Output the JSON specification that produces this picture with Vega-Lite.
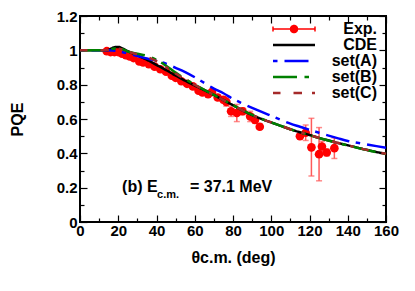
{
  "$schema": "https://vega.github.io/schema/vega-lite/v6.json",
  "width": 306,
  "height": 206,
  "autosize": {"type": "none"},
  "padding": {"left": 80, "top": 16, "right": 29, "bottom": 69},
  "background": "white",
  "config": {
    "view": {"stroke": "black", "strokeWidth": 2},
    "font": "Liberation Sans",
    "axis": {"grid": false, "domain": false, "tickColor": "black", "tickWidth": 1.2, "labelFlush": false, "labelOverlap": false, "labelFont": "Liberation Sans", "labelFontWeight": "bold", "labelFontSize": 15, "labelColor": "black", "titleFont": "Liberation Sans", "titleFontWeight": "bold", "titleFontSize": 16, "titleColor": "black"}
  },
  "datasets": {
    "exp": [
      {"theta": 14, "P": 0.995, "lo": 0.99, "hi": 1.0},
      {"theta": 16, "P": 0.99, "lo": 0.984, "hi": 0.996},
      {"theta": 18, "P": 0.99, "lo": 0.984, "hi": 0.996},
      {"theta": 20, "P": 0.99, "lo": 0.983, "hi": 0.997},
      {"theta": 22, "P": 0.98, "lo": 0.973, "hi": 0.987},
      {"theta": 24, "P": 0.972, "lo": 0.965, "hi": 0.979},
      {"theta": 26, "P": 0.965, "lo": 0.958, "hi": 0.972},
      {"theta": 28, "P": 0.955, "lo": 0.948, "hi": 0.962},
      {"theta": 31, "P": 0.935, "lo": 0.927, "hi": 0.943},
      {"theta": 33, "P": 0.93, "lo": 0.922, "hi": 0.938},
      {"theta": 36, "P": 0.92, "lo": 0.912, "hi": 0.928},
      {"theta": 39, "P": 0.905, "lo": 0.896, "hi": 0.914},
      {"theta": 42, "P": 0.89, "lo": 0.881, "hi": 0.899},
      {"theta": 45, "P": 0.875, "lo": 0.866, "hi": 0.884},
      {"theta": 48, "P": 0.852, "lo": 0.842, "hi": 0.862},
      {"theta": 50, "P": 0.84, "lo": 0.83, "hi": 0.85},
      {"theta": 53, "P": 0.82, "lo": 0.81, "hi": 0.83},
      {"theta": 56, "P": 0.805, "lo": 0.794, "hi": 0.816},
      {"theta": 59, "P": 0.79, "lo": 0.779, "hi": 0.801},
      {"theta": 62, "P": 0.765, "lo": 0.753, "hi": 0.777},
      {"theta": 64, "P": 0.755, "lo": 0.743, "hi": 0.767},
      {"theta": 67, "P": 0.745, "lo": 0.732, "hi": 0.758},
      {"theta": 69, "P": 0.757, "lo": 0.74, "hi": 0.774},
      {"theta": 72, "P": 0.725, "lo": 0.71, "hi": 0.74},
      {"theta": 75, "P": 0.712, "lo": 0.695, "hi": 0.729},
      {"theta": 76.5, "P": 0.7, "lo": 0.675, "hi": 0.725},
      {"theta": 79, "P": 0.645, "lo": 0.615, "hi": 0.675},
      {"theta": 82, "P": 0.635, "lo": 0.585, "hi": 0.685},
      {"theta": 85, "P": 0.645, "lo": 0.625, "hi": 0.665},
      {"theta": 89, "P": 0.615, "lo": 0.585, "hi": 0.645},
      {"theta": 91.5, "P": 0.595, "lo": 0.575, "hi": 0.615},
      {"theta": 94, "P": 0.555, "lo": 0.54, "hi": 0.57},
      {"theta": 115, "P": 0.5, "lo": 0.485, "hi": 0.515},
      {"theta": 118, "P": 0.52, "lo": 0.475, "hi": 0.565},
      {"theta": 121, "P": 0.435, "lo": 0.268, "hi": 0.604},
      {"theta": 125, "P": 0.395, "lo": 0.24, "hi": 0.55},
      {"theta": 126.5, "P": 0.44, "lo": 0.41, "hi": 0.47},
      {"theta": 129, "P": 0.405, "lo": 0.385, "hi": 0.425},
      {"theta": 133, "P": 0.43, "lo": 0.37, "hi": 0.49}
    ],
    "curves": [
      {"model": "CDE", "theta": 0, "P": 1.0},
      {"model": "CDE", "theta": 10, "P": 1.0},
      {"model": "CDE", "theta": 14, "P": 1.0},
      {"model": "CDE", "theta": 16, "P": 1.008},
      {"model": "CDE", "theta": 18, "P": 1.018},
      {"model": "CDE", "theta": 20, "P": 1.02},
      {"model": "CDE", "theta": 22, "P": 1.012},
      {"model": "CDE", "theta": 25, "P": 0.995},
      {"model": "CDE", "theta": 30, "P": 0.97},
      {"model": "CDE", "theta": 35, "P": 0.945},
      {"model": "CDE", "theta": 40, "P": 0.915},
      {"model": "CDE", "theta": 45, "P": 0.885},
      {"model": "CDE", "theta": 50, "P": 0.853},
      {"model": "CDE", "theta": 55, "P": 0.823},
      {"model": "CDE", "theta": 60, "P": 0.795},
      {"model": "CDE", "theta": 65, "P": 0.768},
      {"model": "CDE", "theta": 70, "P": 0.74},
      {"model": "CDE", "theta": 75, "P": 0.71},
      {"model": "CDE", "theta": 80, "P": 0.68},
      {"model": "CDE", "theta": 85, "P": 0.65},
      {"model": "CDE", "theta": 90, "P": 0.623},
      {"model": "CDE", "theta": 95, "P": 0.6},
      {"model": "CDE", "theta": 100, "P": 0.58},
      {"model": "CDE", "theta": 105, "P": 0.56},
      {"model": "CDE", "theta": 110, "P": 0.54},
      {"model": "CDE", "theta": 115, "P": 0.523},
      {"model": "CDE", "theta": 120, "P": 0.507},
      {"model": "CDE", "theta": 125, "P": 0.49},
      {"model": "CDE", "theta": 130, "P": 0.475},
      {"model": "CDE", "theta": 135, "P": 0.46},
      {"model": "CDE", "theta": 140, "P": 0.447},
      {"model": "CDE", "theta": 145, "P": 0.433},
      {"model": "CDE", "theta": 150, "P": 0.42},
      {"model": "CDE", "theta": 155, "P": 0.408},
      {"model": "CDE", "theta": 160, "P": 0.397},
      {"model": "set(A)", "theta": 0, "P": 1.0},
      {"model": "set(A)", "theta": 10, "P": 1.0},
      {"model": "set(A)", "theta": 15, "P": 1.0},
      {"model": "set(A)", "theta": 20, "P": 0.995},
      {"model": "set(A)", "theta": 25, "P": 0.982},
      {"model": "set(A)", "theta": 30, "P": 0.967},
      {"model": "set(A)", "theta": 35, "P": 0.952},
      {"model": "set(A)", "theta": 40, "P": 0.94},
      {"model": "set(A)", "theta": 45, "P": 0.922},
      {"model": "set(A)", "theta": 50, "P": 0.898},
      {"model": "set(A)", "theta": 55, "P": 0.873},
      {"model": "set(A)", "theta": 60, "P": 0.843},
      {"model": "set(A)", "theta": 65, "P": 0.81},
      {"model": "set(A)", "theta": 70, "P": 0.777},
      {"model": "set(A)", "theta": 75, "P": 0.75},
      {"model": "set(A)", "theta": 80, "P": 0.717},
      {"model": "set(A)", "theta": 85, "P": 0.69},
      {"model": "set(A)", "theta": 90, "P": 0.665},
      {"model": "set(A)", "theta": 95, "P": 0.641},
      {"model": "set(A)", "theta": 100, "P": 0.618},
      {"model": "set(A)", "theta": 105, "P": 0.595},
      {"model": "set(A)", "theta": 110, "P": 0.573},
      {"model": "set(A)", "theta": 115, "P": 0.555},
      {"model": "set(A)", "theta": 120, "P": 0.537},
      {"model": "set(A)", "theta": 125, "P": 0.52},
      {"model": "set(A)", "theta": 130, "P": 0.503},
      {"model": "set(A)", "theta": 135, "P": 0.487},
      {"model": "set(A)", "theta": 140, "P": 0.472},
      {"model": "set(A)", "theta": 145, "P": 0.462},
      {"model": "set(A)", "theta": 150, "P": 0.452},
      {"model": "set(A)", "theta": 155, "P": 0.442},
      {"model": "set(A)", "theta": 160, "P": 0.433},
      {"model": "set(B)", "theta": 0, "P": 1.0},
      {"model": "set(B)", "theta": 10, "P": 1.0},
      {"model": "set(B)", "theta": 15, "P": 1.002},
      {"model": "set(B)", "theta": 18, "P": 1.01},
      {"model": "set(B)", "theta": 21, "P": 1.01},
      {"model": "set(B)", "theta": 25, "P": 0.993},
      {"model": "set(B)", "theta": 30, "P": 0.98},
      {"model": "set(B)", "theta": 35, "P": 0.968},
      {"model": "set(B)", "theta": 40, "P": 0.945},
      {"model": "set(B)", "theta": 45, "P": 0.91},
      {"model": "set(B)", "theta": 50, "P": 0.87},
      {"model": "set(B)", "theta": 55, "P": 0.834},
      {"model": "set(B)", "theta": 60, "P": 0.8},
      {"model": "set(B)", "theta": 65, "P": 0.77},
      {"model": "set(B)", "theta": 70, "P": 0.741},
      {"model": "set(B)", "theta": 75, "P": 0.711},
      {"model": "set(B)", "theta": 80, "P": 0.681},
      {"model": "set(B)", "theta": 85, "P": 0.651},
      {"model": "set(B)", "theta": 90, "P": 0.624},
      {"model": "set(B)", "theta": 95, "P": 0.601},
      {"model": "set(B)", "theta": 100, "P": 0.58},
      {"model": "set(B)", "theta": 105, "P": 0.56},
      {"model": "set(B)", "theta": 110, "P": 0.54},
      {"model": "set(B)", "theta": 115, "P": 0.523},
      {"model": "set(B)", "theta": 120, "P": 0.506},
      {"model": "set(B)", "theta": 125, "P": 0.489},
      {"model": "set(B)", "theta": 130, "P": 0.474},
      {"model": "set(B)", "theta": 135, "P": 0.459},
      {"model": "set(B)", "theta": 140, "P": 0.446},
      {"model": "set(B)", "theta": 145, "P": 0.432},
      {"model": "set(B)", "theta": 150, "P": 0.419},
      {"model": "set(B)", "theta": 155, "P": 0.407},
      {"model": "set(B)", "theta": 160, "P": 0.396},
      {"model": "set(C)", "theta": 0, "P": 1.0},
      {"model": "set(C)", "theta": 10, "P": 1.0},
      {"model": "set(C)", "theta": 15, "P": 1.002},
      {"model": "set(C)", "theta": 18, "P": 1.01},
      {"model": "set(C)", "theta": 21, "P": 1.008},
      {"model": "set(C)", "theta": 25, "P": 0.992},
      {"model": "set(C)", "theta": 30, "P": 0.977},
      {"model": "set(C)", "theta": 35, "P": 0.962},
      {"model": "set(C)", "theta": 40, "P": 0.937},
      {"model": "set(C)", "theta": 45, "P": 0.902},
      {"model": "set(C)", "theta": 50, "P": 0.865},
      {"model": "set(C)", "theta": 55, "P": 0.83},
      {"model": "set(C)", "theta": 60, "P": 0.798},
      {"model": "set(C)", "theta": 65, "P": 0.769},
      {"model": "set(C)", "theta": 70, "P": 0.74},
      {"model": "set(C)", "theta": 75, "P": 0.71},
      {"model": "set(C)", "theta": 80, "P": 0.68},
      {"model": "set(C)", "theta": 85, "P": 0.65},
      {"model": "set(C)", "theta": 90, "P": 0.623},
      {"model": "set(C)", "theta": 95, "P": 0.6},
      {"model": "set(C)", "theta": 100, "P": 0.58},
      {"model": "set(C)", "theta": 105, "P": 0.56},
      {"model": "set(C)", "theta": 110, "P": 0.54},
      {"model": "set(C)", "theta": 115, "P": 0.523},
      {"model": "set(C)", "theta": 120, "P": 0.507},
      {"model": "set(C)", "theta": 125, "P": 0.49},
      {"model": "set(C)", "theta": 130, "P": 0.475},
      {"model": "set(C)", "theta": 135, "P": 0.46},
      {"model": "set(C)", "theta": 140, "P": 0.447},
      {"model": "set(C)", "theta": 145, "P": 0.433},
      {"model": "set(C)", "theta": 150, "P": 0.42},
      {"model": "set(C)", "theta": 155, "P": 0.408},
      {"model": "set(C)", "theta": 160, "P": 0.397}
    ]
  },
  "resolve": {"axis": {"x": "independent", "y": "independent"}},
  "layer": [
    {
      "data": {"name": "exp"},
      "mark": {"type": "errorbar", "color": "#ff5a5a", "thickness": 1.5, "ticks": {"size": 6, "color": "#ff5a5a", "thickness": 1.5}},
      "encoding": {
        "x": {"field": "theta", "type": "quantitative", "scale": {"domain": [0, 160], "nice": false, "zero": false},
          "axis": {"orient": "top", "values": [0,10,20,30,40,50,60,70,80,90,100,110,120,130,140,150,160], "labels": false, "title": null,
            "tickSize": {"condition": {"test": "datum.value % 20 === 0", "value": -7}, "value": -4}}},
        "y": {"field": "lo", "type": "quantitative", "scale": {"domain": [0, 1.2], "nice": false, "zero": false},
          "axis": {"orient": "right", "values": [0,0.1,0.2,0.3,0.4,0.5,0.6,0.7,0.8,0.9,1.0,1.1,1.2], "labels": false, "title": null,
            "tickSize": {"condition": {"test": "abs(datum.value*5 - round(datum.value*5)) < 0.001", "value": -7}, "value": -4}}},
        "y2": {"field": "hi"}
      }
    },
    {
      "data": {"name": "exp"},
      "mark": {"type": "point", "filled": true, "shape": "circle", "size": 75, "opacity": 1, "color": "#ff0000"},
      "encoding": {
        "x": {"field": "theta", "type": "quantitative",
          "axis": {"orient": "bottom", "values": [0,10,20,30,40,50,60,70,80,90,100,110,120,130,140,150,160],
            "labelExpr": "datum.value % 20 === 0 ? datum.label : ''", "labelPadding": 8, "title": "θc.m. (deg)", "titlePadding": 8,
            "tickSize": {"condition": {"test": "datum.value % 20 === 0", "value": -7}, "value": -4}}},
        "y": {"field": "P", "type": "quantitative",
          "axis": {"orient": "left", "values": [0,0.1,0.2,0.3,0.4,0.5,0.6,0.7,0.8,0.9,1.0,1.1,1.2],
            "labelExpr": "abs(datum.value*5 - round(datum.value*5)) < 0.001 ? format(datum.value, '~g') : ''", "labelPadding": 10,
            "title": "PQE", "titlePadding": 31,
            "tickSize": {"condition": {"test": "abs(datum.value*5 - round(datum.value*5)) < 0.001", "value": -7}, "value": -4}}}
      }
    },
    {
      "data": {"name": "curves"},
      "mark": {"type": "line", "strokeWidth": 2.5, "interpolate": "monotone"},
      "encoding": {
        "x": {"field": "theta", "type": "quantitative", "axis": null},
        "y": {"field": "P", "type": "quantitative", "axis": null},
        "color": {"field": "model", "type": "nominal",
          "scale": {"domain": ["Exp.", "CDE", "set(A)", "set(B)", "set(C)"], "range": ["#ff0000", "#000000", "#0000ff", "#008000", "#a52a2a"]},
          "legend": {"orient": "none", "legendX": 206, "legendY": 5, "title": null, "padding": 0, "rowPadding": -28.3,
            "symbolType": "stroke", "symbolSize": 1764, "symbolStrokeWidth": 2.5,
            "labelFont": "Liberation Sans", "labelFontWeight": "bold", "labelFontSize": 16, "labelColor": "black",
            "labelAlign": "right", "labelOffset": 75, "values": ["Exp.", "CDE", "set(A)", "set(B)", "set(C)"],
            "encode": {"symbols": {"update": {
              "shape": {"signal": "datum.value === 'Exp.' ? 'M-1,0L1,0M-1,-0.12L-1,0.12M1,-0.12L1,0.12M0.17,0L0.147,0.085L0.085,0.147L0,0.17L-0.085,0.147L-0.147,0.085L-0.17,0L-0.147,-0.085L-0.085,-0.147L0,-0.17L0.085,-0.147L0.147,-0.085Z' : 'stroke'"},
              "fill": {"signal": "datum.value === 'Exp.' ? '#ff0000' : 'transparent'"},
              "strokeWidth": {"signal": "datum.value === 'Exp.' ? 1.5 : 2.5"}
            }}}}},
        "strokeDash": {"field": "model", "type": "nominal",
          "scale": {"domain": ["Exp.", "CDE", "set(A)", "set(B)", "set(C)"], "range": [[1, 0], [1, 0], [4.5, 7, 24, 6.5], [24, 7.5, 4.5, 6], [7.5, 13, 8.5, 10, 3.5, 8]]},
          "legend": {"orient": "none", "legendX": 206, "legendY": 5, "title": null, "padding": 0, "rowPadding": -28.3,
            "symbolType": "stroke", "symbolSize": 1764, "symbolStrokeWidth": 2.5,
            "labelFont": "Liberation Sans", "labelFontWeight": "bold", "labelFontSize": 16, "labelColor": "black",
            "labelAlign": "right", "labelOffset": 75, "values": ["Exp.", "CDE", "set(A)", "set(B)", "set(C)"]}}
      }
    },
    {
      "data": {"values": [{}]},
      "mark": {"type": "text", "align": "left", "baseline": "alphabetic", "font": "Liberation Sans", "fontWeight": "bold", "fontSize": 16, "color": "black"},
      "encoding": {"x": {"datum": 22, "type": "quantitative", "axis": null}, "y": {"datum": 0.175, "type": "quantitative", "axis": null}, "text": {"value": "(b) E"}}
    },
    {
      "data": {"values": [{}]},
      "mark": {"type": "text", "align": "left", "baseline": "alphabetic", "font": "Liberation Sans", "fontWeight": "bold", "fontSize": 11, "color": "black"},
      "encoding": {"x": {"datum": 40.3, "type": "quantitative", "axis": null}, "y": {"datum": 0.14, "type": "quantitative", "axis": null}, "text": {"value": "c.m."}}
    },
    {
      "data": {"values": [{}]},
      "mark": {"type": "text", "align": "left", "baseline": "alphabetic", "font": "Liberation Sans", "fontWeight": "bold", "fontSize": 16, "color": "black"},
      "encoding": {"x": {"datum": 57.5, "type": "quantitative", "axis": null}, "y": {"datum": 0.175, "type": "quantitative", "axis": null}, "text": {"value": "= 37.1 MeV"}}
    }
  ]
}
